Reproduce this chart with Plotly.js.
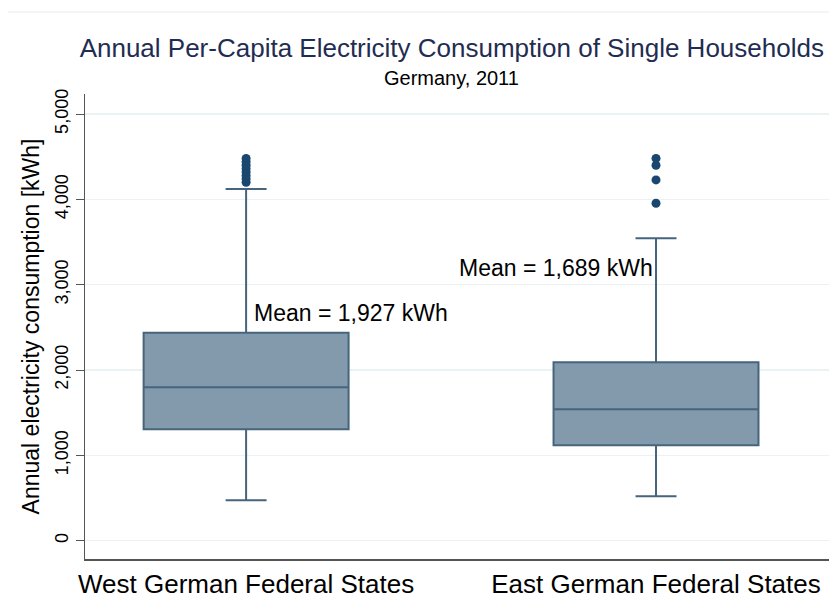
<!DOCTYPE html>
<html>
<head>
<meta charset="utf-8">
<script src="https://cdn.plot.ly/plotly-3.0.1.min.js"></script>
<style>html,body{margin:0;padding:0;background:#fff;}#chart{width:829px;height:608px;}</style>
</head>
<body>
<div id="chart"></div>
<script>
// Data
var categories = ['West German Federal States', 'East German Federal States'];
var lowerWhisker = [475, 520];
var q1Values = [1307, 1118];
var medianValues = [1798, 1540];
var q3Values = [2438, 2090];
var upperWhisker = [4122, 3545];
var meanValues = [1927, 1689];
var westOutliers = [4200, 4240, 4280, 4320, 4360, 4400, 4440, 4480];
var eastOutliers = [3955, 4228, 4400, 4480];
var meanLabels = ['Mean = 1,927 kWh', 'Mean = 1,689 kWh'];
var yTickVals = [0, 1000, 2000, 3000, 4000, 5000];
var yTickText = ['0', '1,000', '2,000', '3,000', '4,000', '5,000'];

var FONT = 'Liberation Sans, Arial, sans-serif';

var boxTrace = {
  type: 'box',
  x: categories,
  q1: q1Values,
  median: medianValues,
  q3: q3Values,
  lowerfence: lowerWhisker,
  upperfence: upperWhisker,
  boxpoints: false,
  width: 0.5,
  whiskerwidth: 0.2,
  fillcolor: '#8399ac',
  line: {color: '#46657c', width: 2},
  hoverinfo: 'skip',
  showlegend: false
};

var outX = [], outY = [];
westOutliers.forEach(function(v){ outX.push(categories[0]); outY.push(v); });
eastOutliers.forEach(function(v){ outX.push(categories[1]); outY.push(v); });

var outlierTrace = {
  type: 'scatter',
  mode: 'markers',
  x: outX,
  y: outY,
  marker: {color: '#1a476f', size: 9},
  showlegend: false,
  hoverinfo: 'skip'
};

var layout = {
  width: 829,
  height: 608,
  margin: {l: 85, r: 0, t: 94, b: 49},
  paper_bgcolor: '#ffffff',
  plot_bgcolor: '#ffffff',
  showlegend: false,
  font: {family: FONT, color: '#000'},
  title: {
    text: 'Annual Per-Capita Electricity Consumption of Single Households',
    font: {family: FONT, size: 26, color: '#1f2d52'},
    x: 0.493, xanchor: 'center',
    y: 0.921, yanchor: 'middle',
    xref: 'paper', yref: 'container'
  },
  xaxis: {
    type: 'category',
    categoryarray: categories,
    range: [-0.393, 1.422],
    showgrid: false,
    zeroline: false,
    showline: true,
    linecolor: '#555',
    linewidth: 1.5,
    ticks: '',
    tickfont: {family: FONT, size: 26, color: '#000'},
    ticklabelstandoff: 1
  },
  yaxis: {
    range: [-215, 5235],
    tickvals: yTickVals,
    ticktext: yTickText,
    tickangle: -90,
    tickfont: {family: FONT, size: 18, color: '#000'},
    ticks: 'outside',
    ticklen: 8,
    tickcolor: '#555',
    showline: true,
    linecolor: '#555',
    linewidth: 1.5,
    showgrid: true,
    gridcolor: '#eaf2f3',
    gridwidth: 1.5,
    zeroline: false,
    title: {
      text: 'Annual electricity consumption [kWh]',
      font: {family: FONT, size: 23, color: '#000'},
      standoff: 6
    }
  },
  annotations: [
    {
      text: 'Germany, 2011',
      xref: 'paper', yref: 'paper',
      x: 0.493, y: 1.0 + (94 - 78) / 465,
      xanchor: 'center', yanchor: 'middle',
      showarrow: false,
      font: {family: FONT, size: 20, color: '#000'}
    },
    {
      text: meanLabels[0],
      xref: 'x', yref: 'y',
      x: 0.015, y: 2673,
      xanchor: 'left', yanchor: 'middle',
      showarrow: false,
      font: {family: FONT, size: 23, color: '#000'}
    },
    {
      text: meanLabels[1],
      xref: 'x', yref: 'y',
      x: 0.515, y: 3193,
      xanchor: 'left', yanchor: 'middle',
      showarrow: false,
      font: {family: FONT, size: 23, color: '#000'}
    }
  ],
  shapes: [
    {
      type: 'line', xref: 'paper', yref: 'paper',
      x0: (8 - 85) / 744, x1: 1, y0: 1 + (94 - 12) / 465, y1: 1 + (94 - 12) / 465,
      line: {color: '#e4ecee', width: 1}
    }
  ]
};

Plotly.newPlot('chart', [boxTrace, outlierTrace], layout, {staticPlot: true, displayModeBar: false});
</script>
</body>
</html>
